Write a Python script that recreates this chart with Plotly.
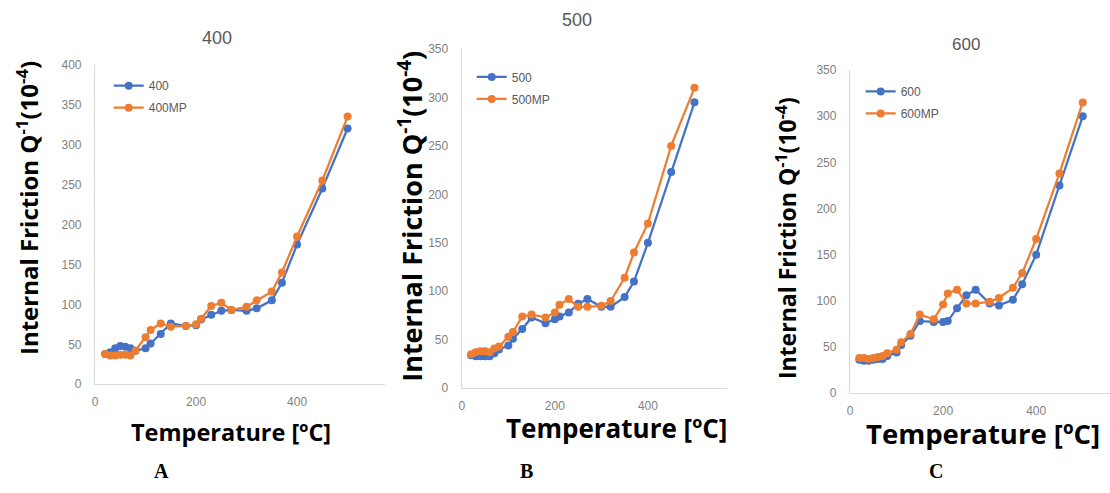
import plotly.graph_objects as go

# ---------------- data ----------------
temps = [20, 30, 40, 50, 60, 70, 80, 100, 110, 130, 150, 180, 200, 210, 230, 250, 270, 300, 320, 350, 370, 400, 450, 500]

q400 = [38, 40, 45, 48, 47, 45, 42, 45, 51, 63, 76, 73, 74, 81, 87, 92, 93, 92, 95, 105, 127, 175, 245, 320]
q400mp = [38, 36, 36, 37, 37, 36, 42, 59, 68, 76, 72, 73, 75, 82, 98, 102, 93, 97, 105, 116, 140, 185, 255, 335]

q500 = [34, 33, 33, 33, 33, 36, 40, 44, 51, 61, 73, 67, 71, 74, 78, 87, 92, 84, 84, 94, 110, 150, 223, 295]
q500mp = [35, 37, 38, 38, 37, 41, 43, 53, 58, 74, 76, 73, 78, 86, 92, 84, 84, 85, 90, 114, 140, 170, 250, 310]

q600 = [36, 35, 35, 36, 37, 37, 40, 44, 52, 62, 78, 77, 77, 78, 92, 106, 112, 97, 95, 101, 118, 150, 225, 300]
q600mp = [38, 38, 37, 38, 39, 40, 43, 47, 55, 64, 85, 80, 96, 108, 112, 97, 97, 99, 103, 114, 130, 167, 238, 315]

panel_titles = ["400", "500", "600"]
series_names = [("400", "400MP"), ("500", "500MP"), ("600", "600MP")]
panel_letters = ["A", "B", "C"]
y_tickvals = [[0, 50, 100, 150, 200, 250, 300, 350, 400],
              [0, 50, 100, 150, 200, 250, 300, 350],
              [0, 50, 100, 150, 200, 250, 300, 350]]
x_tickvals = [0, 200, 400]

W, H = 1110, 493
BLUE = "#4472C4"
ORANGE = "#ED7D31"
AXIS_COL = "#d9d9d9"
TICK_COL = "#7f7f7f"


def px_x(p):
    return p / W


def px_y(p):
    return 1 - p / H


# panel geometry (pixels)
panels = [
    dict(x0=92.3, x1=383, y0=59.3, y1=388.3, xr=[0, 574], yr=[0, 400]),
    dict(x0=460, x1=726, y0=43.3, y1=392.3, xr=[0, 570], yr=[0, 350]),
    dict(x0=849.3, x1=1110, y0=65, y1=397.3, xr=[0, 558.6], yr=[0, 350]),
]

data_pairs = [(q400, q400mp), (q500, q500mp), (q600, q600mp)]

fig = go.Figure()
legend_keys = ["legend", "legend2", "legend3"]

for i, (blue_vals, orange_vals) in enumerate(data_pairs):
    xa = "x" if i == 0 else f"x{i+1}"
    ya = "y" if i == 0 else f"y{i+1}"
    for vals, name, col in ((blue_vals, series_names[i][0], BLUE), (orange_vals, series_names[i][1], ORANGE)):
        fig.add_trace(go.Scatter(
            x=temps, y=vals, name=name, mode="lines+markers",
            line=dict(color=col, width=2.25),
            marker=dict(color=col, size=8),
            xaxis=xa, yaxis=ya, legend=legend_keys[i], legendgroup=name,
            hoverinfo="x+y+name",
        ))

layout = dict(
    width=W, height=H, margin=dict(l=0, r=0, t=0, b=0),
    paper_bgcolor="white", plot_bgcolor="white",
    font=dict(family="Liberation Sans, Arial, sans-serif", color=TICK_COL, size=12),
)

legend_pos = [(106, 66), (470, 57), (860, 72)]
for i, p in enumerate(panels):
    xk = "xaxis" if i == 0 else f"xaxis{i+1}"
    yk = "yaxis" if i == 0 else f"yaxis{i+1}"
    ya = "y" if i == 0 else f"y{i+1}"
    xa = "x" if i == 0 else f"x{i+1}"
    layout[xk] = dict(
        domain=[px_x(p["x0"]), min(1.0, px_x(p["x1"]))], range=p["xr"], anchor=ya,
        showline=True, linecolor=AXIS_COL, linewidth=1.3, showgrid=False, zeroline=False,
        tickvals=x_tickvals, ticks="", ticklabelstandoff=6,
        tickfont=dict(size=12, color=TICK_COL),
    )
    layout[yk] = dict(
        domain=[px_y(p["y1"]), px_y(p["y0"])], range=p["yr"], anchor=xa,
        showline=True, linecolor=AXIS_COL, linewidth=1.3, showgrid=False, zeroline=False,
        tickvals=y_tickvals[i], ticks="", ticklabelstandoff=10,
        tickfont=dict(size=12, color=TICK_COL),
    )
    lx, ly = legend_pos[i]
    layout[legend_keys[i]] = dict(
        x=px_x(lx), y=px_y(ly), xanchor="left", yanchor="top",
        bgcolor="rgba(0,0,0,0)", borderwidth=0,
        font=dict(size=12, color="#595959"), tracegroupgap=3,
    )

fig.update_layout(**layout)

# panel titles
title_pos = [(215, 32, 18), (576, 13, 18), (966, 39, 17)]
for t, (x, y, s) in zip(panel_titles, title_pos):
    fig.add_annotation(text=t, x=px_x(x), y=px_y(y), xref="paper", yref="paper",
                       showarrow=False, xanchor="center", yanchor="middle",
                       font=dict(size=s, color="#595959", family="Liberation Sans, Arial"))

# y-axis titles
ytitle = "Internal Friction Q<sup>-1</sup>(10<sup>-4</sup>)"
ytitle_pos = [(24, 207, 24), (409, 215, 27), (786, 238, 23)]
for x, y, s in ytitle_pos:
    fig.add_annotation(text=ytitle, x=px_x(x), y=px_y(y), xref="paper", yref="paper",
                       showarrow=False, xanchor="center", yanchor="middle", textangle=-90,
                       font=dict(size=s, color="black", family="Open Sans, Arial", weight="bold"))

# x-axis titles
xtitle = "Temperature [ºC]"
xtitle_pos = [(229, 437, 23.5), (615, 433, 26), (983, 439, 27.5)]
for x, y, s in xtitle_pos:
    fig.add_annotation(text=xtitle, x=px_x(x), y=px_y(y), xref="paper", yref="paper",
                       showarrow=False, xanchor="center", yanchor="middle",
                       font=dict(size=s, color="black", family="Open Sans, Arial", weight="bold"))

# panel letters
letter_pos = [(159, 478), (525, 478), (936, 478)]
for t, (x, y) in zip(panel_letters, letter_pos):
    fig.add_annotation(text=t, x=px_x(x), y=px_y(y), xref="paper", yref="paper",
                       showarrow=False, xanchor="center", yanchor="middle",
                       font=dict(size=20, color="black", family="Liberation Serif, Times New Roman", weight="bold"))

fig.write_html("out.html")
